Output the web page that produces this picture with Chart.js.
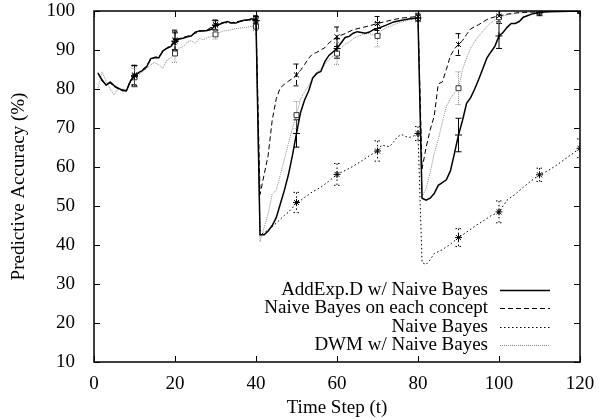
<!DOCTYPE html>
<html>
<head>
<meta charset="utf-8">
<script src="https://cdn.jsdelivr.net/npm/chart.js@4"></script>
<style>body{margin:0;background:#fff}</style>
</head>
<body>
<canvas id="accChart" width="600" height="420"></canvas>
<script>
// tick labels
const xTickValues = [0, 20, 40, 60, 80, 100, 120];
const yTickValues = [10, 20, 30, 40, 50, 60, 70, 80, 90, 100];
const markerSteps = [10, 20, 30, 40, 50, 60, 70, 80, 90, 100, 110, 120];

const seriesNames = ['AddExp.D w/ Naive Bayes', 'Naive Bayes on each concept', 'Naive Bayes', 'DWM w/ Naive Bayes'];

// AddExp.D w/ Naive Bayes
const addExpT = [1,2,3,4,5,6,7,8,9,10,11,12,13,14,15,16,17,18,19,20,21,22,23,24,25,26,27,28,29,30,31,32,33,34,35,36,37,38,39,40,
  41,42,43,44,45,46,47,48,49,50,51,52,53,54,55,56,57,58,59,60,61,62,63,64,65,66,67,68,69,70,72,74,76,78,80,
  81,82,83,84,85,86,87,88,89,90,91,92,93,94,95,96,97,98,99,100,101,102,103,104,105,106,107,108,109,110,112,115,120];
const addExpV = [84.0,82.3,81.0,81.8,80.8,80.2,79.6,79.5,82.0,83.3,84.2,84.8,85.7,87.8,88.0,88.0,89.8,90.4,90.9,92.2,92.8,93.0,93.4,93.6,94.6,94.9,94.9,95.0,95.3,96.3,96.6,97.0,97.3,96.9,96.9,97.3,97.6,97.7,98.0,97.6,
  42.6,42.6,43.6,45.0,47.0,50.5,54.0,58.0,63.0,68.6,74.0,77.2,79.5,82.8,84.0,84.5,87.0,88.6,89.5,90.4,91.8,93.2,93.5,94.3,94.7,94.5,94.3,94.6,95.2,95.5,96.3,97.2,97.6,98.0,98.2,
  52.0,51.5,52.0,53.2,55.3,56.0,56.7,59.0,63.5,68.2,72.0,76.3,77.8,80.0,82.5,85.2,87.9,89.5,91.0,93.6,94.5,95.8,96.8,96.8,97.3,98.4,98.8,99.2,99.4,99.6,99.8,99.9,100];
const addExpErr = [2.7, 2.2, 1.2, 1.0, 3.5, 2.5, 1.5, 0.8, 4.3, 3.2, 0.8, 0.3];

// Naive Bayes on each concept
const eachT = [1,2,3,4,5,6,7,8,9,10,11,12,13,14,15,16,17,18,19,20,22,24,26,28,30,32,34,36,38,40,
  41,42,43,44,45,46,47,48,49,50,51,52,53,54,55,56,57,58,59,60,62,64,66,68,70,72,74,76,78,80,
  81,82,83,84,85,86,87,88,89,90,91,92,93,94,95,96,97,98,99,100,102,105,110,115,120];
const eachV = [84.2,82.0,81.2,81.5,80.6,80.0,79.8,79.6,82.2,83.6,84.0,85.0,85.9,87.6,88.2,88.2,89.5,90.6,91.2,92.6,93.2,93.8,94.8,95.2,96.5,97.1,97.0,97.4,97.8,97.8,
  53.0,58.0,63.0,72.0,77.5,80.3,81.2,82.0,82.7,83.6,84.8,86.3,87.9,89.0,89.4,90.0,90.6,91.8,92.6,93.4,94.2,95.2,95.7,96.2,96.8,97.3,97.8,98.2,98.4,98.6,
  59.5,65.0,69.5,73.0,81.3,81.8,85.0,88.5,90.3,91.4,92.4,94.0,95.4,96.0,96.5,97.2,97.8,98.2,98.5,98.7,99.2,99.6,99.8,99.9,100];
const eachErr = [2.5, 2.5, 1.2, 1.0, 2.8, 2.5, 1.8, 0.8, 2.8, 1.5, 0.5, 0.3];

// Naive Bayes
const nbT = [1,2,3,4,5,6,7,8,9,10,11,12,13,14,15,16,17,18,19,20,22,24,26,28,30,32,34,36,38,40,
  41,42,43,44,45,46,47,48,49,50,51,52,53,54,55,56,57,58,59,60,62,64,66,68,70,71,72,73,74,75,76,77,78,79,80,
  81,82,83,84,86,88,90,92,94,96,98,100,102,104,106,108,110,112,114,116,118,120];
const nbV = [84.0,82.1,81.1,81.6,80.7,80.1,79.7,79.6,82.1,83.4,84.1,84.9,85.8,87.7,88.1,88.1,89.6,90.5,91.0,92.3,93.1,93.7,94.8,95.1,96.4,97.0,96.9,97.3,97.7,97.5,
  42.5,43.2,43.8,44.7,45.6,46.6,47.6,48.4,49.5,50.9,51.4,52.2,52.9,53.7,54.2,54.8,55.6,56.4,57.2,58.1,59.1,60.2,61.5,62.9,64.1,65.6,65.4,65.2,66.5,67.8,68.3,67.8,67.6,68.0,68.6,
  35.5,35.0,36.2,37.8,38.8,40.2,41.9,43.3,44.8,46.1,47.5,48.5,51.5,53.0,54.8,56.5,58.0,59.0,60.3,61.8,63.3,64.8];
const nbErr = [2.5, 2.5, 1.2, 1.0, 2.6, 2.8, 2.6, 1.8, 2.3, 2.8, 1.7, 2.4];

// DWM w/ Naive Bayes
const dwmT = [1,2,3,4,5,6,7,8,9,10,11,12,13,14,15,16,17,18,19,20,21,22,23,24,25,26,27,28,29,30,31,32,33,34,35,36,37,38,39,40,
  41,42,43,44,45,46,47,48,49,50,51,52,53,54,55,56,57,58,59,60,61,62,63,64,65,66,67,68,69,70,71,72,74,76,78,80,
  81,82,83,84,85,86,87,88,89,90,91,92,93,94,95,96,97,98,99,100,102,105,110,115,120];
const dwmV = [80.2,84.4,82.0,80.0,78.5,80.2,80.0,79.7,82.2,83.0,83.6,84.4,85.3,86.2,86.8,86.2,85.3,87.4,88.0,89.1,90.5,90.8,92.0,92.4,91.7,93.0,92.6,93.2,93.4,94.0,94.5,94.9,95.0,95.2,95.5,95.6,95.7,95.9,96.1,96.0,
  40.8,44.5,48.0,53.0,54.1,58.0,62.0,66.0,70.0,73.3,77.5,79.2,80.8,83.0,84.3,85.2,86.2,87.6,88.4,89.1,90.5,91.5,92.0,92.9,93.4,93.8,94.2,94.2,93.8,93.6,95.0,95.6,96.5,97.2,97.8,98.2,
  52.4,54.5,58.5,63.5,67.0,71.5,75.5,77.5,79.0,80.2,85.0,88.0,90.5,92.2,93.6,94.8,96.0,97.0,97.7,98.4,99.0,99.5,99.8,99.9,100];
const dwmErr = [2.3, 2.3, 1.2, 1.0, 3.5, 2.8, 2.8, 1.0, 4.2, 1.5, 0.6, 0.3];

const errorBars = [addExpErr, eachErr, nbErr, dwmErr];
const toPoints = (ts, vs) => ts.map((t, i) => ({ x: t, y: vs[i] }));
const markerRadius = ctx => (ctx.raw && markerSteps.includes(ctx.raw.x)) ? 3.5 : 0;

const serif = { family: 'Liberation Serif', size: 19 };
Chart.defaults.font.family = 'Liberation Serif';
Chart.defaults.font.size = 19;
Chart.defaults.color = '#000';

const framePlugin = {
  id: 'frame',
  beforeDatasetsDraw(chart) {
    const { ctx, chartArea: a, scales: { x, y } } = chart;
    ctx.save();
    ctx.beginPath();
    ctx.rect(a.left, a.top, a.width, a.height);
    ctx.clip();
    chart.data.datasets.forEach((ds, di) => {
      const errs = errorBars[di];
      ctx.strokeStyle = ds.borderColor;
      ctx.lineWidth = 1;
      ctx.setLineDash(ds.borderDash || []);
      markerSteps.forEach((t, k) => {
        const pt = ds.data.find(p => p.x === t);
        if (!pt) return;
        const px = x.getPixelForValue(t);
        const top = y.getPixelForValue(pt.y + errs[k]);
        const bot = y.getPixelForValue(pt.y - errs[k]);
        ctx.beginPath();
        ctx.moveTo(px, top); ctx.lineTo(px, bot);
        ctx.moveTo(px - 3, top); ctx.lineTo(px + 3, top);
        ctx.moveTo(px - 3, bot); ctx.lineTo(px + 3, bot);
        ctx.stroke();
      });
    });
    ctx.restore();
  },
  afterDraw(chart) {
    const { ctx, chartArea: a, scales: { x, y } } = chart;
    ctx.save();
    ctx.strokeStyle = '#000';
    ctx.lineWidth = 1.5;
    ctx.setLineDash([]);
    ctx.strokeRect(a.left, a.top, a.width, a.height);
    ctx.lineWidth = 1;
    ctx.beginPath();
    xTickValues.forEach(v => {
      const px = Math.round(x.getPixelForValue(v)) + 0.5;
      ctx.moveTo(px, a.bottom); ctx.lineTo(px, a.bottom - 6);
      ctx.moveTo(px, a.top); ctx.lineTo(px, a.top + 6);
    });
    yTickValues.forEach(v => {
      const py = Math.round(y.getPixelForValue(v)) + 0.5;
      ctx.moveTo(a.left, py); ctx.lineTo(a.left + 6, py);
      ctx.moveTo(a.right, py); ctx.lineTo(a.right - 6, py);
    });
    ctx.stroke();

    // legend, text right-aligned with the line sample on its right
    ctx.font = '19px "Liberation Serif"';
    ctx.textAlign = 'right';
    ctx.textBaseline = 'middle';
    ctx.fillStyle = '#000';
    chart.data.datasets.forEach((ds, i) => {
      const ly = 290 + i * 18.3;
      ctx.fillText(ds.label, 488, ly);
      ctx.strokeStyle = ds.borderColor;
      ctx.lineWidth = ds.borderWidth;
      ctx.setLineDash(ds.borderDash || []);
      ctx.beginPath();
      ctx.moveTo(500, Math.round(ly) + 0.5);
      ctx.lineTo(550, Math.round(ly) + 0.5);
      ctx.stroke();
    });
    ctx.restore();
  }
};

const lineSet = (label, pts, color, width, dash, style, fill) => ({
  label, data: pts, borderColor: color, borderWidth: width, borderDash: dash,
  pointStyle: style, pointRadius: markerRadius, pointHoverRadius: 0,
  pointBorderColor: style === 'rect' ? '#333' : '#000', pointBackgroundColor: fill,
  pointBorderWidth: 1, tension: 0, fill: false
});

new Chart(document.getElementById('accChart'), {
  type: 'line',
  data: {
    datasets: [
      lineSet(seriesNames[0], toPoints(addExpT, addExpV), '#000', 1.5, [], 'cross', '#000'),
      lineSet(seriesNames[1], toPoints(eachT, eachV), '#000', 1, [5, 3], 'crossRot', '#000'),
      lineSet(seriesNames[2], toPoints(nbT, nbV), '#000', 1, [1.5, 2.5], 'star', '#000'),
      lineSet(seriesNames[3], toPoints(dwmT, dwmV), '#8a8a8a', 1, [1, 1], 'rect', '#fff')
    ]
  },
  options: {
    responsive: false,
    animation: false,
    layout: { padding: { top: 11, right: 20, left: 0, bottom: 0 } },
    plugins: { legend: { display: false }, tooltip: { enabled: false } },
    scales: {
      x: {
        type: 'linear', min: 0, max: 120,
        afterBuildTicks: s => { s.ticks = xTickValues.map(v => ({ value: v })); },
        afterFit: s => { s.height = 58; },
        grid: { display: false }, border: { display: false },
        ticks: { padding: 3, maxRotation: 0, font: serif, color: '#000' },
        title: { display: true, text: 'Time Step (t)', font: serif, color: '#000', padding: { top: 2, bottom: 1 } }
      },
      y: {
        type: 'linear', min: 10, max: 100,
        afterBuildTicks: s => { s.ticks = yTickValues.map(v => ({ value: v })); },
        afterFit: s => { s.width = 94; s.paddingTop = 0; s.paddingBottom = 0; },
        grid: { display: false }, border: { display: false },
        ticks: { padding: 11, font: serif, color: '#000' },
        title: { display: true, text: 'Predictive Accuracy (%)', font: serif, color: '#000', padding: { top: 8, bottom: 0 } }
      }
    }
  },
  plugins: [framePlugin]
});
</script>
</body>
</html>
